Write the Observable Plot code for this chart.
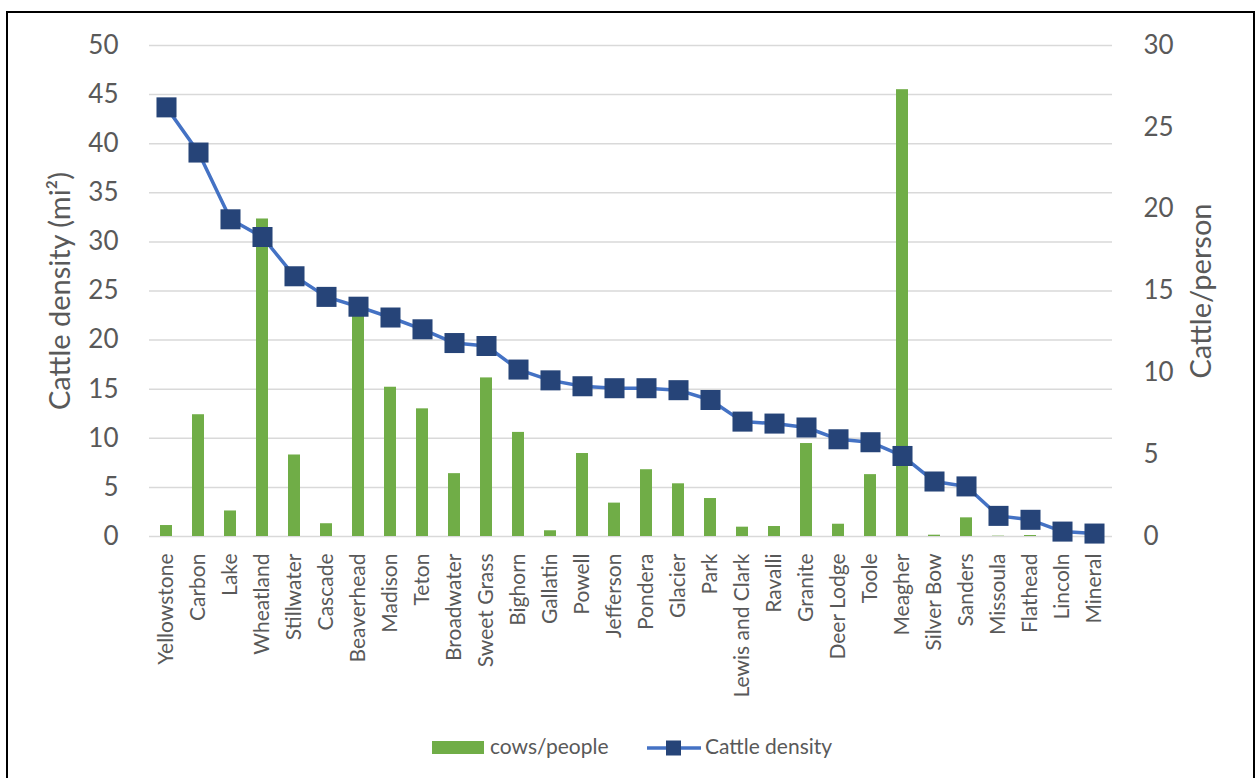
<!DOCTYPE html>
<html><head><meta charset="utf-8">
<script src="https://cdn.jsdelivr.net/npm/d3@7"></script>
<script src="https://cdn.jsdelivr.net/npm/@observablehq/plot@0.6"></script>
<style>
body{margin:0;background:#fff;font-family:Lato,sans-serif;width:1256px;height:778px;overflow:hidden;position:relative;}
#frame{position:absolute;left:6px;top:11px;width:1249px;height:800px;border:2px solid #000;box-sizing:border-box;pointer-events:none;}
#chart{position:absolute;left:0;top:0;}
.lg{position:absolute;color:#595959;font-size:21px;line-height:24px;white-space:nowrap;}
</style></head>
<body>
<div id="chart"></div>
<div id="frame"></div>
<div id="legend"></div>
<script>
const counties = ["Yellowstone","Carbon","Lake","Wheatland","Stillwater","Cascade","Beaverhead","Madison","Teton","Broadwater","Sweet Grass","Bighorn","Gallatin","Powell","Jefferson","Pondera","Glacier","Park","Lewis and Clark","Ravalli","Granite","Deer Lodge","Toole","Meagher","Silver Bow","Sanders","Missoula","Flathead","Lincoln","Mineral"];
// Cattle density (cattle per mi², left axis)
const density = [43.7,39.1,32.3,30.5,26.5,24.4,23.4,22.3,21.1,19.7,19.4,17.0,15.9,15.3,15.1,15.1,14.9,13.9,11.7,11.5,11.1,9.9,9.6,8.2,5.6,5.1,2.1,1.7,0.5,0.3];
// cows/people (cattle per person, right axis)
const cowsPerPerson = [0.67,7.44,1.56,19.4,4.98,0.78,14.1,9.12,7.8,3.84,9.69,6.36,0.35,5.07,2.04,4.08,3.22,2.32,0.57,0.61,5.68,0.75,3.78,27.3,0.08,1.14,0.02,0.06,0.03,0.03];
const leftTicks = [0,5,10,15,20,25,30,35,40,45,50];
const rightTicks = [0,5,10,15,20,25,30];
const leftMax = 50, rightMax = 30;
const ratio = leftMax / rightMax;

const data = counties.map((c,i)=>({county:c, density:density[i], cows:cowsPerPerson[i]}));

const chart = Plot.plot({
  width:1256, height:720,
  marginLeft:149, marginRight:144, marginTop:45, marginBottom:184,
  style:{fontFamily:"Lato, sans-serif", color:"#595959", background:"transparent"},
  x:{domain:counties, paddingInner:0.615, paddingOuter:0.3075},
  y:{domain:[0,leftMax]},
  marks:[
    Plot.ruleY(leftTicks, {stroke:"#d9d9d9", strokeWidth:1.5}),
    Plot.barY(data, {x:"county", y:d=>d.cows*ratio, fill:"#70AD47"}),
    Plot.line(data, {x:"county", y:"density", stroke:"#4472C4", strokeWidth:3.5}),
    Plot.dot(data, {x:"county", y:"density", symbol:"square", r:11.3, fill:"#264478"}),
    Plot.axisX({tickRotate:-90, tickSize:0, tickPadding:17, fontSize:21, label:null}),
    Plot.axisY(leftTicks, {anchor:"left", tickSize:0, tickPadding:31, fontSize:26, label:null}),
    Plot.axisY(rightTicks.map(v=>v*ratio), {anchor:"right", tickSize:0, tickPadding:31, fontSize:26, label:null, tickFormat:d=>String(Math.round(d/ratio))}),
    Plot.text(["Cattle density (mi²)"], {text:d=>d, frameAnchor:"left", dx:-89, rotate:-90, textAnchor:"middle", fontSize:29, fill:"#595959"}),
    Plot.text(["Cattle/person"], {text:d=>d, frameAnchor:"right", dx:89, rotate:-90, textAnchor:"middle", fontSize:29, fill:"#595959"})
  ]
});
document.getElementById("chart").appendChild(chart);

// legend
const lg = document.getElementById("legend");
lg.innerHTML = `
<div class="lg" style="left:432px;top:741px;width:52px;height:13px;background:#70AD47"></div>
<div class="lg" style="left:490px;top:734px;">cows/people</div>
<svg class="lg" style="left:647px;top:739px;" width="54" height="18"><line x1="0" x2="54" y1="9" y2="9" stroke="#4472C4" stroke-width="3.5"/><rect x="19" y="1.5" width="15" height="15" fill="#264478"/></svg>
<div class="lg" style="left:705px;top:734px;">Cattle density</div>`;
</script>
</body></html>
